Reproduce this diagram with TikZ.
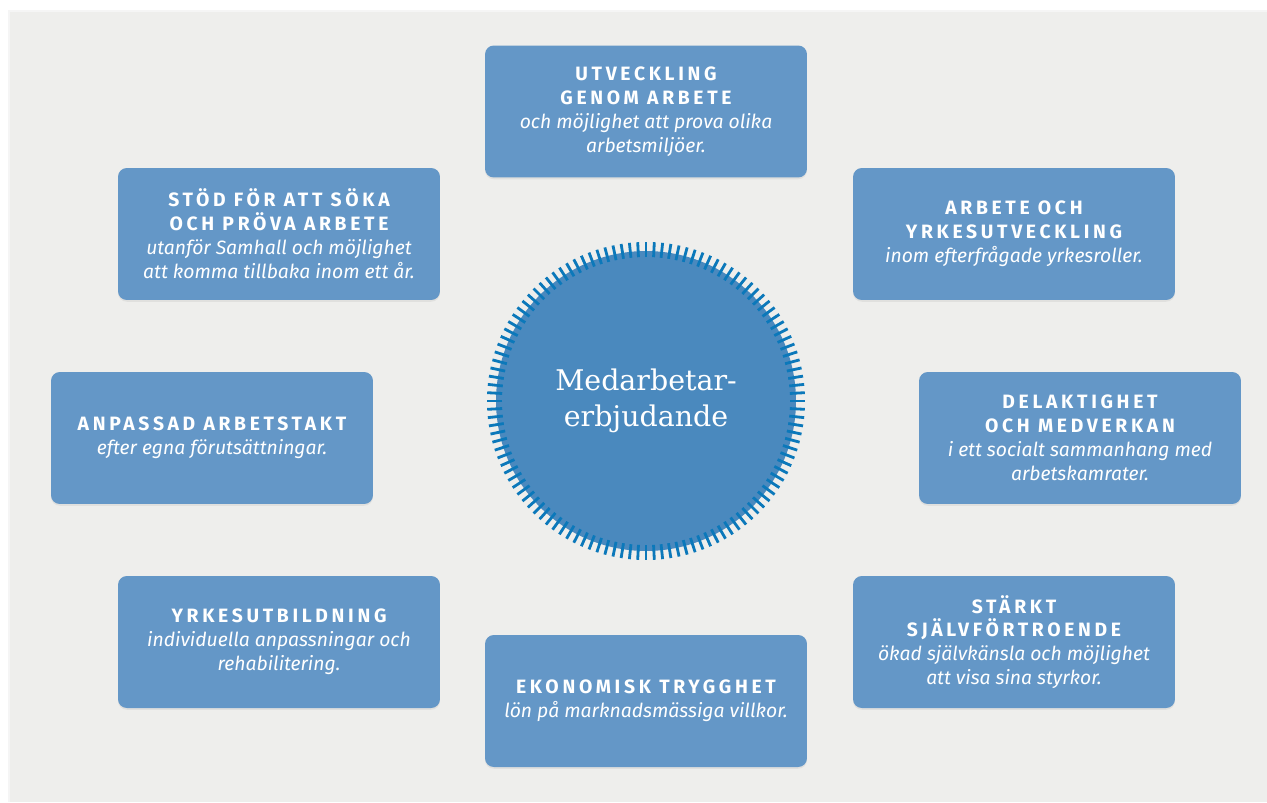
\documentclass[tikz,border=0pt]{standalone}
\usepackage{fontspec}
\usetikzlibrary{shadows}
\newfontfamily\headfont[LetterSpace=19]{Fira Sans}
\newfontfamily\subfont{Fira Sans}
\newfontfamily\hubfont{DejaVu Serif}
\definecolor{panelgrey}{HTML}{EEEEEC}
\definecolor{cardblue}{HTML}{6497C7}
\definecolor{hubblue}{HTML}{4A89BE}
\definecolor{tickblue}{HTML}{0B78BA}
\def\cardhead#1{{\headfont\bfseries #1}}
\def\cardsub#1{{\subfont\itshape #1}}

\begin{document}
\begin{tikzpicture}[x=0.02cm, y=-0.02cm,
		card/.style={fill=cardblue, rounded corners=5pt, minimum width=6.44cm, minimum height=2.64cm,
			align=center, text=white, font={\fontsize{11}{13.6}\selectfont},
			drop shadow={opacity=0.12, shadow xshift=0pt, shadow yshift=-1pt}}]
		%%%%% START %%%%%
		\useasboundingbox (0, 0) rectangle (1267, 802);
		\fill[white] (0, 0) rectangle (1267, 802);
		\fill[black!4] (8, 10) rectangle (1267, 802);
		\fill[panelgrey] (10, 12) rectangle (1267, 802);
		
		% centre
		\node[circle, fill=hubblue, minimum size=6cm, text=white, align=center,
			font={\hubfont\fontsize{16.2}{20.4}\selectfont}] (hub) at (646, 401) {Medarbetar-\\erbjudande};
		\foreach \a in {0,3,...,357}
			\draw[tickblue, line width=1.6pt] (hub.center) ++(\a:144) -- ++(\a:15);
		
		% cards
		\node[card] (utveckling) at (646, 111.5) {\cardhead{UTVECKLING}\\\cardhead{GENOM ARBETE}\\\cardsub{och möjlighet att prova olika}\\\cardsub{arbetsmiljöer.}};
		\node[card] (stod) at (279, 234) {\cardhead{STÖD FÖR ATT SÖKA}\\\cardhead{OCH PRÖVA ARBETE}\\\cardsub{utanför Samhall och möjlighet}\\\cardsub{att komma tillbaka inom ett år.}};
		\node[card] (yrkesroll) at (1014, 234) {\cardhead{ARBETE OCH}\\\cardhead{YRKESUTVECKLING}\\\cardsub{inom efterfrågade yrkesroller.}};
		\node[card] (arbetstakt) at (212, 438) {\cardhead{ANPASSAD ARBETSTAKT}\\\cardsub{efter egna förutsättningar.}};
		\node[card] (delaktighet) at (1080, 438) {\cardhead{DELAKTIGHET}\\\cardhead{OCH MEDVERKAN}\\\cardsub{i ett socialt sammanhang med}\\\cardsub{arbetskamrater.}};
		\node[card] (yrkesutb) at (279, 642) {\cardhead{YRKESUTBILDNING}\\\cardsub{individuella anpassningar och}\\\cardsub{rehabilitering.}};
		\node[card] (trygghet) at (646, 701) {\cardhead{EKONOMISK TRYGGHET}\\\cardsub{lön på marknadsmässiga villkor.}};
		\node[card] (sjalv) at (1014, 642) {\cardhead{STÄRKT}\\\cardhead{SJÄLVFÖRTROENDE}\\\cardsub{ökad självkänsla och möjlighet}\\\cardsub{att visa sina styrkor.}};
		%%%%% END %%%%%
	\end{tikzpicture}
\end{document}
